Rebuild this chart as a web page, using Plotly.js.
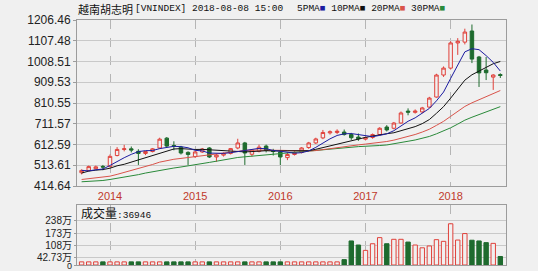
<!DOCTYPE html>
<html><head><meta charset="utf-8">
<script src="https://cdn.plot.ly/plotly-3.0.1.min.js"></script>
<style>html,body{margin:0;padding:0;background:#f0f0f0;}#chart{width:538px;height:271px;}</style>
</head><body><div id="chart"></div>
<script>
const months = ['2013-09','2013-10','2013-11','2013-12',
'2014-01','2014-02','2014-03','2014-04','2014-05','2014-06','2014-07','2014-08','2014-09','2014-10','2014-11','2014-12',
'2015-01','2015-02','2015-03','2015-04','2015-05','2015-06','2015-07','2015-08','2015-09','2015-10','2015-11','2015-12',
'2016-01','2016-02','2016-03','2016-04','2016-05','2016-06','2016-07','2016-08','2016-09','2016-10','2016-11','2016-12',
'2017-01','2017-02','2017-03','2017-04','2017-05','2017-06','2017-07','2017-08','2017-09','2017-10','2017-11','2017-12',
'2018-01','2018-02','2018-03','2018-04','2018-05','2018-06','2018-07','2018-08'];

const open  = [478,489,497,508,507,560,589,592,580,570,579,596,643,608,600,575,555,577,596,553,562,570,596,620,566,580,605,584,577,550,565,575,598,620,644,668,670,672,660,648,638,646,660,696,690,715,772,766,768,791,839,944,977,1097,1101,1154,1030,968,934,946];
const high  = [494,512,512,515,565,600,611,603,590,582,596,645,648,628,606,580,582,596,600,568,575,596,640,625,590,612,612,592,582,575,580,600,625,645,682,680,685,684,668,665,650,665,695,705,720,770,785,780,792,840,950,985,1105,1120,1165,1185,1035,1030,948,952];
const low   = [470,484,495,490,505,556,580,575,515,562,575,592,600,585,565,515,548,572,548,530,555,565,590,515,555,575,575,560,515,538,560,570,592,615,638,660,662,655,635,630,632,640,655,675,685,712,752,760,762,788,836,935,970,1040,1090,1001,887,920,873,930];
const close = [489,507,506,505,556,589,592,586,570,579,592,638,605,605,572,565,577,591,553,562,569,593,620,572,586,600,584,579,553,565,575,596,620,639,670,673,676,660,645,640,645,660,690,682,715,763,767,772,787,834,944,977,1097,1105,1149,1020,954,955,944,942];

const ma5  = [489.4,486.8,491.8,495.6,512.6,532.6,549.6,565.6,578.6,583.2,583.8,593,596.8,603.8,602.4,597,584.8,582,571.6,569.6,570.4,573.6,579.4,583.2,588,594.2,592.4,584.2,580.4,576.2,571.2,573.6,581.8,599,620,639.6,655.6,663.6,664.8,658.8,653.2,650,656,663.4,678.4,702,723.4,739.8,760.8,784.6,820.8,862.8,927.8,991.4,1054.4,1069.6,1065,1036.6,1004.4,963];
const ma10 = [476.3,485.7,490.3,493.0,499.5,511.0,518.2,528.7,537.1,547.9,558.2,571.3,581.2,591.2,592.8,590.4,588.9,589.4,587.7,586.0,583.7,579.2,580.7,577.4,578.8,582.3,583.0,581.8,581.8,582.1,582.7,583.0,583.0,589.7,598.1,605.4,614.6,622.7,631.9,639.4,646.4,652.8,659.8,664.1,668.6,677.6,686.7,697.9,712.1,731.5,761.4,793.1,833.8,876.1,919.5,945.2,963.9,982.2,997.9,1008.7];
const ma20 = [445.7,450.0,453.7,455.2,461.6,470.0,479.0,488.0,496.9,506.5,517.3,528.5,535.8,542.1,546.2,550.7,553.6,559.1,562.4,567.0,571.0,575.3,581.0,584.3,585.8,586.4,586.0,585.6,584.8,584.1,583.2,581.1,581.9,583.6,588.5,593.9,598.8,602.3,606.9,610.8,614.6,617.9,621.4,626.9,633.4,641.5,650.7,660.3,672.0,685.5,703.9,723.0,746.8,770.1,794.1,811.4,825.3,840.1,855.0,870.1];
const ma30 = [434.8,435.7,438.5,440.9,445.8,451.2,456.7,462.4,468.8,476.4,483.2,490.4,496.2,500.5,505.3,510.1,515.6,521.8,527.2,533.0,539.4,545.4,550.7,553.9,557.0,561.2,563.4,566.6,568.9,572.0,574.9,577.8,581.6,586.1,589.9,592.7,595.5,598.0,600.5,602.5,604.3,605.0,607.8,610.4,615.2,621.8,628.1,634.1,641.9,651.0,663.5,676.3,692.2,710.0,728.7,742.7,755.1,767.6,780.6,793.2];

// volume in 万
const volume = [17,17,17,17,17,17,17,17,17,17,17,17,17,17,17,17,17,17,17,17,17,17,17,17,17,17,17,17,17,17,17,17,17,17,17,17,17,
  29,130,108,79,115,148,115,139,139,124,108,93,103,137,128,223,135,170,134,130,121,117,46];

const yearTicks = ['2014-01','2015-01','2016-01','2017-01','2018-01'];
const yearLabels = ['2014','2015','2016','2017','2018'];
const priceTicks = [414.64,513.61,612.59,711.57,810.55,909.53,1008.51,1107.48,1206.46];
const priceTickText = ['414.64','513.61','612.59','711.57','810.55','909.53','1008.51','1107.48','1206.46'];
const volTicks = [0,42.73,108,173,238];
const volTickText = ['<span style="font-size:9px">0</span>','42.73万','108万','173万','238万'];

const BG = '#f0f0f0';
const UP = '#e0403a', DOWN = '#1e6b2e';
const L=77, R=506, T=20, B=265;
const px = x => (x-L)/(R-L);
const py = y => (B-y)/(B-T);

const isUp = close.map((c,i)=> c >= open[i]);

const traces = [
  {type:'candlestick', x:months, open:open, high:high, low:low, close:close, xaxis:'x', yaxis:'y',
   increasing:{line:{color:UP,width:1}, fillcolor:BG}, decreasing:{line:{color:DOWN,width:1}, fillcolor:DOWN},
   whiskerwidth:0, hoverinfo:'skip'},
  {type:'scatter', mode:'lines', x:months, y:ma30, line:{color:'#2a8a3a',width:1}, xaxis:'x', yaxis:'y', hoverinfo:'skip'},
  {type:'scatter', mode:'lines', x:months, y:ma20, line:{color:'#d9534a',width:1}, xaxis:'x', yaxis:'y', hoverinfo:'skip'},
  {type:'scatter', mode:'lines', x:months, y:ma10, line:{color:'#111111',width:1}, xaxis:'x', yaxis:'y', hoverinfo:'skip'},
  {type:'scatter', mode:'lines', x:months, y:ma5, line:{color:'#1c1ca0',width:1}, xaxis:'x', yaxis:'y', hoverinfo:'skip'},
  {type:'bar', x:months, y:volume, xaxis:'x2', yaxis:'y2', width:0.62,
   marker:{color:isUp.map(u=>u?BG:DOWN), line:{color:isUp.map(u=>u?UP:DOWN), width:1}}, hoverinfo:'skip'}
];

const axFont = {family:'Liberation Sans, Arial, Noto Sans CJK SC', size:12, color:'#222'};
const volFont = {family:'Liberation Sans Narrow, Liberation Sans, Arial, Noto Sans CJK SC', size:10, color:'#222'};
const xcommon = {type:'category', range:[-0.65,59.8], tickvals:yearTicks, ticktext:yearLabels,
  showgrid:true, gridcolor:'#b5b5b5', griddash:'dash', gridwidth:1, showline:true, mirror:true,
  linecolor:'#9c9c9c', linewidth:1, ticks:'', zeroline:false, fixedrange:true};

const layout = {
  width:538, height:271,
  margin:{l:L, r:538-R, t:T, b:271-B, pad:0},
  paper_bgcolor:BG, plot_bgcolor:BG, showlegend:false, bargap:0,
  xaxis:Object.assign({}, xcommon, {anchor:'y', domain:[0,1], rangeslider:{visible:false},
     tickfont:{family:'Liberation Sans, Arial', size:11, color:'#c0392b'}}),
  yaxis:{domain:[py(186),1], range:[414.64,1206.46], tickvals:priceTicks, ticktext:priceTickText,
     tickfont:axFont, showgrid:true, gridcolor:'#c9c9c9', gridwidth:1, showline:true, mirror:true,
     linecolor:'#9c9c9c', ticks:'outside', ticklen:3, tickcolor:'#9c9c9c', zeroline:false, fixedrange:true},
  xaxis2:Object.assign({}, xcommon, {anchor:'y2', domain:[0,1], showticklabels:false}),
  yaxis2:{domain:[0,py(205)], range:[0,324.5], tickvals:volTicks, ticktext:volTickText,
     tickfont:volFont, ticklabeloverflow:'allow', showgrid:true, gridcolor:'#c9c9c9', gridwidth:1, showline:true, mirror:true,
     linecolor:'#9c9c9c', ticks:'outside', ticklen:2, tickcolor:'#9c9c9c', zeroline:false, fixedrange:true},
  annotations:[
    {xref:'paper', yref:'paper', x:px(76), y:py(9), xanchor:'left', yanchor:'middle', showarrow:false,
     text:'越南胡志明', font:{family:'Noto Sans CJK SC', size:11, color:'#111'}},
    {xref:'paper', yref:'paper', x:px(133), y:py(9), xanchor:'left', yanchor:'middle', showarrow:false,
     text:'[VNINDEX] 2018-08-08 15:00', font:{family:'Liberation Mono, DejaVu Sans Mono', size:9.5, color:'#111'}},
    {xref:'paper', yref:'paper', x:px(295), y:py(9), xanchor:'left', yanchor:'middle', showarrow:false,
     text:'5PMA<span style="color:#1c1ca0">■</span> 10PMA<span style="color:#111">■</span> 20PMA<span style="color:#d9534a">■</span> 30PMA<span style="color:#2a8a3a">■</span>',
     font:{family:'Liberation Mono, DejaVu Sans Mono', size:9.5, color:'#111'}},
    {xref:'paper', yref:'paper', x:px(79), y:py(212), xanchor:'left', yanchor:'middle', showarrow:false,
     text:'成交量<span style="font-family:Liberation Mono;font-size:9.5px">:36946</span>', font:{family:'Noto Sans CJK SC', size:12, color:'#111'}}
  ]
};

Plotly.newPlot('chart', traces, layout, {staticPlot:true, displayModeBar:false});
</script>
</body></html>
